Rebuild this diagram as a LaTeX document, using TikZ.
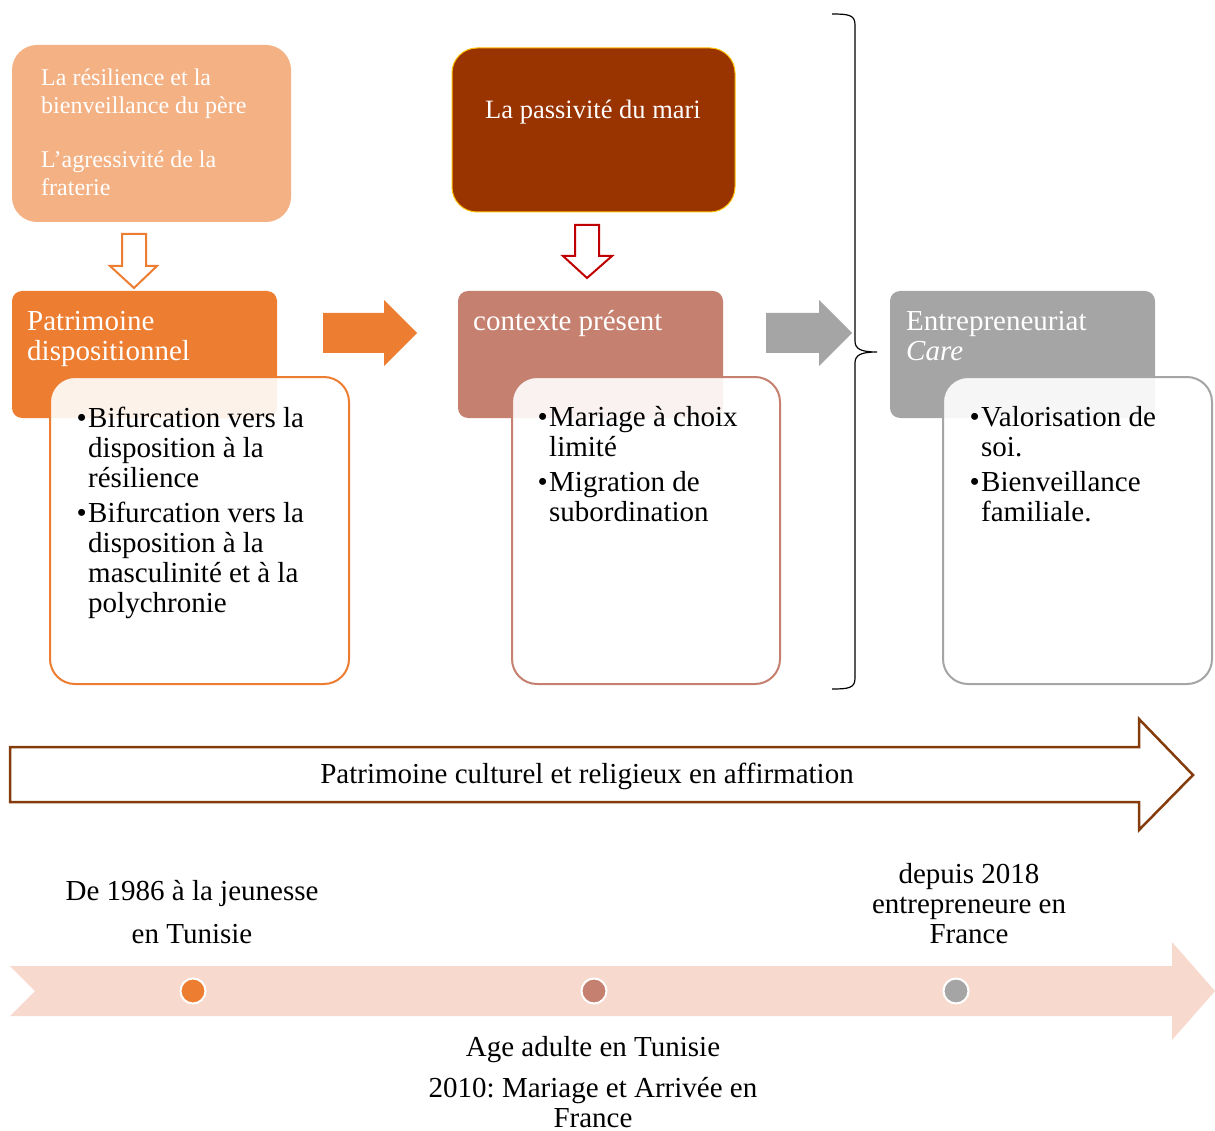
\documentclass[tikz,border=0pt]{standalone}
\usepackage{fontspec}
\setmainfont{Liberation Serif}
\usetikzlibrary{positioning}
\frenchspacing

\definecolor{peach}{HTML}{F4B183}
\definecolor{carrot}{HTML}{ED7D31}
\definecolor{rust}{HTML}{993300}
\definecolor{amber}{HTML}{FFC000}
\definecolor{crimson}{HTML}{C00000}
\definecolor{rosewood}{HTML}{C5806F}
\definecolor{ash}{HTML}{A5A5A5}
\definecolor{umber}{HTML}{843C0C}
\definecolor{blush}{HTML}{F8D9CE}

\newcommand{\puce}{\llap{\textbullet\hspace{1.5pt}}}

\tikzset{
    sourcebox/.style={rounded corners=25pt,inner sep=0pt,outer sep=0pt,anchor=north west},
    headbox/.style={rounded corners=10pt,inner sep=0pt,outer sep=0pt,anchor=north west,
        minimum width=265pt,minimum height=127pt},
    listbox/.style={rounded corners=25pt,line width=2pt,fill=white,fill opacity=0.9,
        inner sep=0pt,outer sep=0pt,anchor=north west,minimum height=307pt},
    headtext/.style={anchor=base west,inner sep=0pt,text=white,align=left,
        font=\fontsize{29}{30}\selectfont},
    listtext/.style={anchor=base west,inner sep=0pt,align=left,
        font=\fontsize{29}{30}\selectfont},
    datetext/.style={anchor=base,inner sep=0pt,align=center,
        font=\fontsize{29}{30}\selectfont},
    hollowdown/.style={fill=white,line width=2pt,line join=miter},
    dot/.style={circle,draw=white,line width=2pt,minimum size=25pt,inner sep=0pt}
}

\begin{document}
\begin{tikzpicture}[x=1pt,y=-1pt]
    \useasboundingbox (0,0) rectangle (1215,1131);

    % sources on top (base anchor = last line)
    \node[sourcebox,fill=peach,minimum width=279pt,minimum height=177pt] (pere) at (12,45) {};
    \node[anchor=base west,inner sep=0pt,text=white,align=left,
        font=\fontsize{24}{28}\selectfont] (pereText) at (41,196)
        {La résilience et la\\bienveillance du père\\[26pt]L’agressivité de la\\fraterie};

    \node[sourcebox,fill=rust,draw=amber,line width=1pt,
        minimum width=283pt,minimum height=164pt] (mari) at (452,48) {};
    \node[anchor=base,inner sep=0pt,text=white,
        font=\fontsize{26.5}{30}\selectfont] (mariText) at (593,119) {La passivité du mari};

    \draw[hollowdown,draw=carrot]
        (122,234) -- (146,234) -- (146,266) -- (157,266) -- (134,288)
        -- (110,266) -- (122,266) -- cycle;
    \draw[hollowdown,draw=crimson]
        (575,225) -- (599,225) -- (599,256) -- (612,256) -- (587,278)
        -- (563,256) -- (575,256) -- cycle;

    % three stages
    \node[headbox,fill=carrot] (hdrA) at (12,291) {};
    \node[headtext] (hdrAText) at (27,361) {Patrimoine\\dispositionnel};
    \node[listbox,draw=carrot,minimum width=299pt] (listA) at (50,377) {};
    \node[listtext] (listAText) at (88,612)
        {\puce Bifurcation vers la\\disposition à la\\résilience\\[5pt]
         \puce Bifurcation vers la\\disposition à la\\masculinité et à la\\polychronie};

    \node[headbox,fill=rosewood] (hdrB) at (458,291) {};
    \node[headtext] (hdrBText) at (473,331) {contexte présent};
    \node[listbox,draw=rosewood,minimum width=268pt] (listB) at (512,377) {};
    \node[listtext] (listBText) at (549,521)
        {\puce Mariage à choix\\limité\\[5pt]\puce Migration de\\subordination};

    \node[headbox,fill=ash] (hdrC) at (890,291) {};
    \node[headtext] (hdrCText) at (906,361) {Entrepreneuriat\\\textit{Care}};
    \node[listbox,draw=ash,minimum width=269pt] (listC) at (943,377) {};
    \node[listtext] (listCText) at (981,521)
        {\puce Valorisation de\\soi.\\[5pt]\puce Bienveillance\\familiale.};

    \fill[carrot] (323,313) -- (384,313) -- (384,300) -- (417,333) -- (384,366)
        -- (384,353) -- (323,353) -- cycle;
    \fill[ash] (766,313) -- (819,313) -- (819,300) -- (852,333) -- (819,366)
        -- (819,353) -- (766,353) -- cycle;

    % brace
    \draw[line width=1.2pt]
        (832,14) .. controls (849,14) and (855,15) .. (855,25) -- (855,341)
        .. controls (855,349) and (861,352) .. (877,352)
        .. controls (861,352) and (855,355) .. (855,363) -- (855,678)
        .. controls (855,688) and (849,689) .. (832,689);

    % heritage arrow
    \draw[umber,line width=2.5pt,fill=white,line join=miter]
        (10,747) -- (1139,747) -- (1139,719) -- (1193,775) -- (1139,830)
        -- (1139,802) -- (10,802) -- cycle;
    \node[datetext] (heritage) at (587,783) {Patrimoine culturel et religieux en affirmation};

    % timeline
    \fill[blush] (10,966) -- (1172,966) -- (1172,942) -- (1215,991) -- (1172,1040)
        -- (1172,1016) -- (10,1016) -- (35,991) -- cycle;
    \node[dot,fill=carrot] (dotA) at (193,991) {};
    \node[dot,fill=rosewood] (dotB) at (594,991) {};
    \node[dot,fill=ash] (dotC) at (956,991) {};

    \node[datetext] (jeunesse) at (192,943) {De 1986 à la jeunesse\\[13pt]en Tunisie};
    \node[datetext] (adulte) at (593,1127)
        {Age adulte en Tunisie\\[11pt]2010: Mariage et Arrivée en\\France};
    \node[datetext] (depuis) at (969,943) {depuis 2018\\entrepreneure en\\France};
\end{tikzpicture}
\end{document}
